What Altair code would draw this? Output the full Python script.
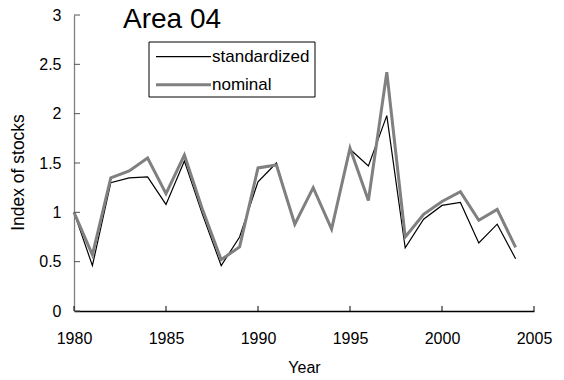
import altair as alt
import pandas as pd

years = list(range(1980, 2005))
standardized = [1.00, 0.46, 1.30, 1.35, 1.36, 1.08, 1.52, 0.97, 0.46, 0.75, 1.31, 1.50, 0.87,
                1.25, 0.82, 1.64, 1.47, 1.98, 0.64, 0.93, 1.07, 1.10, 0.69, 0.88, 0.53]
nominal = [1.00, 0.57, 1.35, 1.42, 1.55, 1.19, 1.58, 1.02, 0.52, 0.65, 1.45, 1.48, 0.88,
           1.25, 0.83, 1.65, 1.12, 2.42, 0.75, 0.98, 1.11, 1.21, 0.92, 1.03, 0.645]
series_names = ["standardized", "nominal"]
series_colors = ["#000000", "#808080"]
series_widths = [1.2, 3]
x_ticks = [1980, 1985, 1990, 1995, 2000, 2005]
y_ticks = [0, 0.5, 1, 1.5, 2, 2.5, 3]
title_text = "Area 04"

df = pd.DataFrame({
    "Year": years * 2,
    "value": standardized + nominal,
    "series": ["standardized"] * len(years) + ["nominal"] * len(years),
})

W, H = 460, 296
FONT = "Liberation Sans"

xscale = alt.Scale(domain=[1980, 2005], nice=False)
yscale = alt.Scale(domain=[0, 3], nice=False)
color = alt.Color("series:N", scale=alt.Scale(domain=series_names, range=series_colors), legend=None)
swidth = alt.StrokeWidth("series:N", scale=alt.Scale(domain=series_names, range=series_widths),
                         legend=None)

base = alt.Chart(df)


def line_for(name):
    return base.transform_filter(alt.datum.series == name).mark_line().encode(
        x=alt.X("Year:Q", scale=xscale,
                axis=alt.Axis(values=x_ticks, format="d", title="Year", tickSize=0,
                              labelPadding=19, labelFlush=False, domainColor="black",
                              titlePadding=13)),
        y=alt.Y("value:Q", scale=yscale,
                axis=alt.Axis(values=y_ticks, format=".1~f", title="Index of stocks", tickSize=0,
                              labelPadding=13, labelFlush=False, domainColor="#808080",
                              titleX=-56, titleY=157, titleAngle=-90, titleAlign="center",
                              titleBaseline="middle", titleFontSize=17.5)),
        color=color,
        strokeWidth=swidth,
    )


xt = alt.Chart(pd.DataFrame({"t": x_ticks})).mark_rule(color="black", strokeWidth=1).encode(
    x=alt.X("t:Q", scale=xscale), y=alt.value(H), y2=alt.value(H - 5))
yt = alt.Chart(pd.DataFrame({"t": y_ticks})).mark_rule(color="#555555", strokeWidth=1).encode(
    y=alt.Y("t:Q", scale=yscale), x=alt.value(0), x2=alt.value(6))

title = alt.Chart(pd.DataFrame({"t": [title_text]})).mark_text(
    align="left", baseline="alphabetic", fontSize=28, font=FONT, color="black"
).encode(text="t:N", x=alt.value(49), y=alt.value(13))

# legend box
leg_box = alt.Chart(pd.DataFrame({"a": [0]})).mark_rect(
    fill="white", stroke="black", strokeWidth=1
).encode(x=alt.value(75), x2=alt.value(241), y=alt.value(27), y2=alt.value(82))

leg_layers = []
row_y = [41.7, 69.7]
for name, col, sw, ry in zip(series_names, series_colors, series_widths, row_y):
    d = pd.DataFrame({"series": [name]})
    leg_layers.append(alt.Chart(d).mark_rule(color=col, strokeWidth=sw).encode(
        x=alt.value(82), x2=alt.value(137), y=alt.value(ry)))
    leg_layers.append(alt.Chart(d).mark_text(
        align="left", baseline="middle", fontSize=17, font=FONT, color="black"
    ).encode(text="series:N", x=alt.value(138), y=alt.value(ry)))

chart = alt.layer(line_for("standardized"), line_for("nominal"), xt, yt, title,
                  leg_box, *leg_layers).properties(
    width=W, height=H,
    autosize=alt.AutoSizeParams(type="none"),
    padding={"left": 74, "top": 15, "right": 30, "bottom": 69},
    background="white",
).configure_view(stroke=None).configure_axis(
    grid=False, labelFont=FONT, titleFont=FONT, labelFontSize=16, titleFontSize=16,
    labelColor="black", titleColor="black", titleFontWeight="normal", domainWidth=1.3,
)

chart.save("out.html", embed_options={"renderer": "svg", "actions": False})
